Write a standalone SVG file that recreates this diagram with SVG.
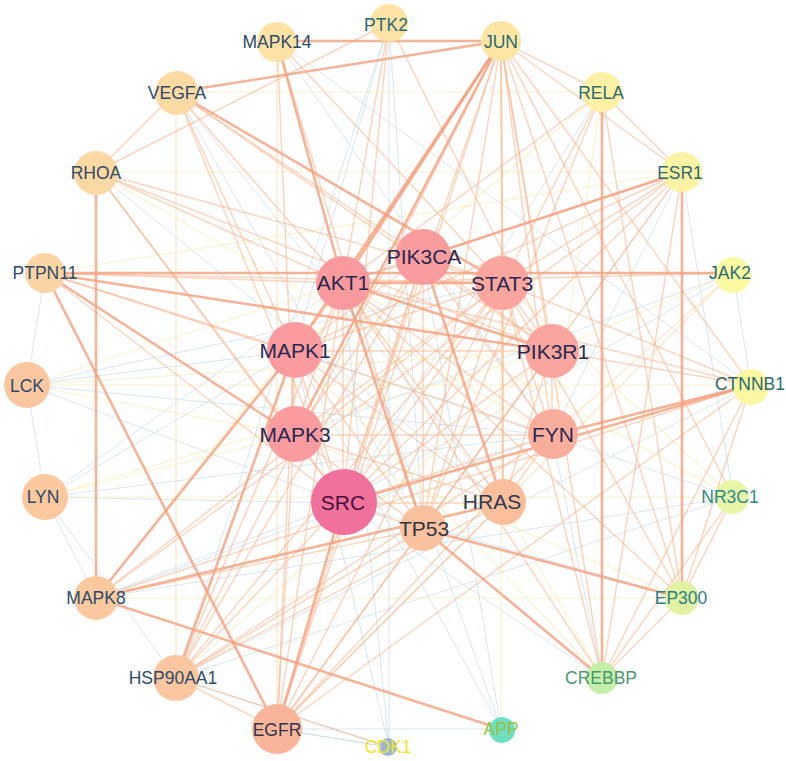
<svg xmlns="http://www.w3.org/2000/svg" width="786" height="761" viewBox="0 0 786 761">
<style>
  .bg{fill:#ffffff}
  #edges line{fill:none;stroke-linecap:round}
  .e1{stroke:#F2A07E;stroke-width:2.6;opacity:.8}
  .e2{stroke:#F6B48E;stroke-width:1.5;opacity:.55}
  .e3{stroke:#F8D4A2;stroke-width:1.3;opacity:.55}
  .e4{stroke:#C8DCEA;stroke-width:1;opacity:.7}
  .e5{stroke:#F5ECAE;stroke-width:1.2;opacity:.6}
  .node text{font-family:"Liberation Sans",Arial,sans-serif;text-anchor:middle;dominant-baseline:central}
  .out text{font-size:17.5px;fill:#2E4B66}
  .yel text{fill:#2B6B6E}
  .inn text{font-size:21px;fill:#2B2850}
</style>
<rect class="bg" x="0" y="0" width="786" height="761"/>
<g id="edges">
  <line class="e4" x1="27" y1="385" x2="343" y2="503"/>
  <line class="e5" x1="27" y1="385" x2="343" y2="283"/>
  <line class="e4" x1="27" y1="385" x2="294" y2="351"/>
  <line class="e5" x1="27" y1="385" x2="294" y2="435"/>
  <line class="e4" x1="27" y1="385" x2="552" y2="435"/>
  <line class="e5" x1="27" y1="385" x2="552" y2="351"/>
  <line class="e5" x1="27" y1="385" x2="751" y2="385"/>
  <line class="e4" x1="27" y1="385" x2="503" y2="283"/>
  <line class="e4" x1="27" y1="385" x2="45" y2="273"/>
  <line class="e4" x1="27" y1="385" x2="45" y2="497"/>
  <line class="e4" x1="45" y1="497" x2="343" y2="503"/>
  <line class="e5" x1="45" y1="497" x2="294" y2="435"/>
  <line class="e4" x1="45" y1="497" x2="552" y2="435"/>
  <line class="e5" x1="45" y1="497" x2="552" y2="351"/>
  <line class="e4" x1="45" y1="497" x2="343" y2="283"/>
  <line class="e5" x1="45" y1="497" x2="733" y2="497"/>
  <line class="e4" x1="45" y1="497" x2="96" y2="598"/>
  <line class="e4" x1="45" y1="497" x2="176" y2="678"/>
  <line class="e4" x1="45" y1="497" x2="294" y2="351"/>
  <line class="e3" x1="176" y1="92" x2="176" y2="678"/>
  <line class="e3" x1="277" y1="41" x2="277" y2="729"/>
  <line class="e4" x1="389" y1="23" x2="389" y2="747"/>
  <line class="e4" x1="389" y1="23" x2="423" y2="529"/>
  <line class="e4" x1="389" y1="747" x2="294" y2="351"/>
  <line class="e4" x1="389" y1="747" x2="343" y2="283"/>
  <line class="e4" x1="389" y1="747" x2="176" y2="678"/>
  <line class="e4" x1="389" y1="747" x2="277" y2="729"/>
  <line class="e4" x1="501" y1="729" x2="294" y2="351"/>
  <line class="e4" x1="501" y1="729" x2="343" y2="283"/>
  <line class="e5" x1="501" y1="729" x2="501" y2="41"/>
  <line class="e4" x1="501" y1="729" x2="277" y2="729"/>
  <line class="e4" x1="501" y1="729" x2="423" y2="257"/>
  <line class="e4" x1="733" y1="273" x2="343" y2="503"/>
  <line class="e3" x1="733" y1="273" x2="552" y2="435"/>
  <line class="e5" x1="733" y1="273" x2="552" y2="351"/>
  <line class="e3" x1="733" y1="273" x2="277" y2="729"/>
  <line class="e4" x1="733" y1="273" x2="751" y2="385"/>
  <line class="e4" x1="733" y1="273" x2="294" y2="435"/>
  <line class="e5" x1="733" y1="497" x2="503" y2="283"/>
  <line class="e4" x1="733" y1="497" x2="96" y2="598"/>
  <line class="e5" x1="733" y1="497" x2="343" y2="283"/>
  <line class="e4" x1="733" y1="497" x2="176" y2="678"/>
  <line class="e4" x1="733" y1="497" x2="682" y2="172"/>
  <line class="e4" x1="733" y1="497" x2="294" y2="351"/>
  <line class="e5" x1="96" y1="598" x2="682" y2="598"/>
  <line class="e5" x1="176" y1="92" x2="602" y2="92"/>
  <line class="e5" x1="96" y1="172" x2="682" y2="172"/>
  <line class="e4" x1="389" y1="23" x2="294" y2="351"/>
  <line class="e4" x1="389" y1="23" x2="176" y2="678"/>
  <line class="e4" x1="277" y1="41" x2="552" y2="435"/>
  <line class="e4" x1="277" y1="41" x2="751" y2="385"/>
  <line class="e4" x1="176" y1="92" x2="503" y2="503"/>
  <line class="e4" x1="176" y1="92" x2="423" y2="529"/>
  <line class="e5" x1="96" y1="172" x2="552" y2="435"/>
  <line class="e4" x1="96" y1="172" x2="503" y2="503"/>
  <line class="e5" x1="602" y1="92" x2="294" y2="351"/>
  <line class="e4" x1="602" y1="92" x2="343" y2="503"/>
  <line class="e5" x1="602" y1="92" x2="552" y2="435"/>
  <line class="e4" x1="682" y1="172" x2="552" y2="435"/>
  <line class="e4" x1="682" y1="172" x2="423" y2="529"/>
  <line class="e5" x1="682" y1="598" x2="294" y2="435"/>
  <line class="e4" x1="682" y1="598" x2="343" y2="503"/>
  <line class="e5" x1="602" y1="678" x2="294" y2="351"/>
  <line class="e4" x1="602" y1="678" x2="343" y2="503"/>
  <line class="e5" x1="602" y1="678" x2="503" y2="503"/>
  <line class="e4" x1="602" y1="678" x2="552" y2="435"/>
  <line class="e5" x1="176" y1="678" x2="552" y2="351"/>
  <line class="e4" x1="176" y1="678" x2="751" y2="385"/>
  <line class="e5" x1="96" y1="598" x2="343" y2="283"/>
  <line class="e4" x1="96" y1="598" x2="552" y2="435"/>
  <line class="e4" x1="96" y1="598" x2="343" y2="503"/>
  <line class="e5" x1="45" y1="273" x2="682" y2="172"/>
  <line class="e4" x1="277" y1="729" x2="389" y2="747"/>
  <line class="e2" x1="501" y1="41" x2="423" y2="529"/>
  <line class="e2" x1="501" y1="41" x2="602" y2="92"/>
  <line class="e2" x1="501" y1="41" x2="682" y2="172"/>
  <line class="e2" x1="501" y1="41" x2="503" y2="283"/>
  <line class="e2" x1="501" y1="41" x2="552" y2="435"/>
  <line class="e2" x1="501" y1="41" x2="503" y2="503"/>
  <line class="e2" x1="501" y1="41" x2="552" y2="351"/>
  <line class="e2" x1="501" y1="41" x2="602" y2="678"/>
  <line class="e2" x1="501" y1="41" x2="682" y2="598"/>
  <line class="e2" x1="501" y1="41" x2="751" y2="385"/>
  <line class="e2" x1="501" y1="41" x2="343" y2="503"/>
  <line class="e2" x1="501" y1="41" x2="176" y2="678"/>
  <line class="e2" x1="501" y1="41" x2="733" y2="497"/>
  <line class="e2" x1="501" y1="41" x2="277" y2="729"/>
  <line class="e2" x1="602" y1="92" x2="682" y2="598"/>
  <line class="e2" x1="602" y1="92" x2="682" y2="172"/>
  <line class="e2" x1="602" y1="92" x2="343" y2="283"/>
  <line class="e2" x1="602" y1="92" x2="503" y2="283"/>
  <line class="e2" x1="602" y1="92" x2="423" y2="529"/>
  <line class="e2" x1="682" y1="172" x2="343" y2="503"/>
  <line class="e2" x1="682" y1="172" x2="343" y2="283"/>
  <line class="e2" x1="682" y1="172" x2="294" y2="351"/>
  <line class="e2" x1="682" y1="172" x2="602" y2="678"/>
  <line class="e2" x1="682" y1="172" x2="503" y2="283"/>
  <line class="e2" x1="682" y1="172" x2="96" y2="598"/>
  <line class="e2" x1="751" y1="385" x2="343" y2="283"/>
  <line class="e2" x1="751" y1="385" x2="552" y2="351"/>
  <line class="e2" x1="751" y1="385" x2="503" y2="283"/>
  <line class="e2" x1="751" y1="385" x2="602" y2="678"/>
  <line class="e2" x1="751" y1="385" x2="277" y2="729"/>
  <line class="e2" x1="751" y1="385" x2="96" y2="598"/>
  <line class="e2" x1="751" y1="385" x2="682" y2="598"/>
  <line class="e2" x1="733" y1="497" x2="682" y2="598"/>
  <line class="e2" x1="733" y1="497" x2="602" y2="678"/>
  <line class="e2" x1="682" y1="598" x2="503" y2="283"/>
  <line class="e2" x1="682" y1="598" x2="343" y2="283"/>
  <line class="e2" x1="682" y1="598" x2="602" y2="678"/>
  <line class="e2" x1="602" y1="678" x2="503" y2="283"/>
  <line class="e2" x1="602" y1="678" x2="343" y2="283"/>
  <line class="e2" x1="277" y1="729" x2="343" y2="283"/>
  <line class="e2" x1="277" y1="729" x2="294" y2="351"/>
  <line class="e2" x1="277" y1="729" x2="294" y2="435"/>
  <line class="e2" x1="277" y1="729" x2="503" y2="283"/>
  <line class="e2" x1="277" y1="729" x2="552" y2="351"/>
  <line class="e2" x1="277" y1="729" x2="552" y2="435"/>
  <line class="e2" x1="277" y1="729" x2="503" y2="503"/>
  <line class="e2" x1="277" y1="729" x2="423" y2="257"/>
  <line class="e2" x1="277" y1="729" x2="176" y2="678"/>
  <line class="e2" x1="277" y1="729" x2="682" y2="172"/>
  <line class="e2" x1="176" y1="678" x2="343" y2="283"/>
  <line class="e2" x1="176" y1="678" x2="343" y2="503"/>
  <line class="e2" x1="176" y1="678" x2="503" y2="283"/>
  <line class="e2" x1="176" y1="678" x2="423" y2="257"/>
  <line class="e2" x1="176" y1="678" x2="552" y2="435"/>
  <line class="e2" x1="176" y1="678" x2="503" y2="503"/>
  <line class="e2" x1="176" y1="678" x2="423" y2="529"/>
  <line class="e2" x1="176" y1="678" x2="389" y2="747"/>
  <line class="e2" x1="96" y1="598" x2="423" y2="529"/>
  <line class="e2" x1="96" y1="598" x2="503" y2="283"/>
  <line class="e2" x1="96" y1="172" x2="343" y2="283"/>
  <line class="e2" x1="96" y1="172" x2="552" y2="351"/>
  <line class="e2" x1="96" y1="172" x2="294" y2="435"/>
  <line class="e2" x1="96" y1="172" x2="343" y2="503"/>
  <line class="e2" x1="96" y1="172" x2="176" y2="92"/>
  <line class="e2" x1="96" y1="172" x2="503" y2="283"/>
  <line class="e2" x1="176" y1="92" x2="552" y2="351"/>
  <line class="e2" x1="176" y1="92" x2="343" y2="283"/>
  <line class="e2" x1="176" y1="92" x2="343" y2="503"/>
  <line class="e2" x1="176" y1="92" x2="294" y2="351"/>
  <line class="e2" x1="176" y1="92" x2="423" y2="257"/>
  <line class="e2" x1="277" y1="41" x2="423" y2="529"/>
  <line class="e2" x1="277" y1="41" x2="503" y2="283"/>
  <line class="e2" x1="277" y1="41" x2="294" y2="435"/>
  <line class="e2" x1="389" y1="23" x2="343" y2="283"/>
  <line class="e2" x1="389" y1="23" x2="343" y2="503"/>
  <line class="e2" x1="389" y1="23" x2="552" y2="351"/>
  <line class="e2" x1="389" y1="23" x2="96" y2="172"/>
  <line class="e2" x1="45" y1="273" x2="294" y2="351"/>
  <line class="e2" x1="45" y1="273" x2="503" y2="283"/>
  <line class="e2" x1="45" y1="273" x2="343" y2="503"/>
  <line class="e2" x1="45" y1="273" x2="552" y2="435"/>
  <line class="e2" x1="45" y1="273" x2="343" y2="283"/>
  <line class="e2" x1="343" y1="283" x2="733" y2="273"/>
  <line class="e2" x1="343" y1="283" x2="423" y2="257"/>
  <line class="e2" x1="343" y1="283" x2="294" y2="351"/>
  <line class="e2" x1="343" y1="283" x2="294" y2="435"/>
  <line class="e2" x1="343" y1="283" x2="343" y2="503"/>
  <line class="e2" x1="343" y1="283" x2="552" y2="435"/>
  <line class="e2" x1="343" y1="283" x2="503" y2="503"/>
  <line class="e2" x1="423" y1="257" x2="503" y2="283"/>
  <line class="e2" x1="423" y1="257" x2="552" y2="351"/>
  <line class="e2" x1="423" y1="257" x2="343" y2="503"/>
  <line class="e2" x1="423" y1="257" x2="294" y2="351"/>
  <line class="e2" x1="423" y1="257" x2="294" y2="435"/>
  <line class="e2" x1="423" y1="257" x2="552" y2="435"/>
  <line class="e2" x1="423" y1="257" x2="423" y2="529"/>
  <line class="e2" x1="503" y1="283" x2="343" y2="503"/>
  <line class="e2" x1="503" y1="283" x2="294" y2="351"/>
  <line class="e2" x1="503" y1="283" x2="294" y2="435"/>
  <line class="e2" x1="503" y1="283" x2="552" y2="351"/>
  <line class="e2" x1="503" y1="283" x2="423" y2="529"/>
  <line class="e2" x1="503" y1="283" x2="552" y2="435"/>
  <line class="e2" x1="503" y1="283" x2="503" y2="503"/>
  <line class="e2" x1="552" y1="351" x2="343" y2="503"/>
  <line class="e2" x1="552" y1="351" x2="552" y2="435"/>
  <line class="e2" x1="552" y1="351" x2="294" y2="351"/>
  <line class="e2" x1="552" y1="351" x2="503" y2="503"/>
  <line class="e2" x1="552" y1="435" x2="343" y2="503"/>
  <line class="e2" x1="552" y1="435" x2="294" y2="435"/>
  <line class="e2" x1="552" y1="435" x2="503" y2="503"/>
  <line class="e2" x1="503" y1="503" x2="343" y2="503"/>
  <line class="e2" x1="503" y1="503" x2="294" y2="351"/>
  <line class="e2" x1="503" y1="503" x2="294" y2="435"/>
  <line class="e2" x1="423" y1="529" x2="343" y2="503"/>
  <line class="e2" x1="423" y1="529" x2="294" y2="351"/>
  <line class="e2" x1="423" y1="529" x2="294" y2="435"/>
  <line class="e2" x1="343" y1="503" x2="294" y2="351"/>
  <line class="e2" x1="343" y1="503" x2="294" y2="435"/>
  <line class="e2" x1="294" y1="351" x2="294" y2="435"/>
  <line class="e1" x1="45" y1="273" x2="733" y2="273"/>
  <line class="e1" x1="277" y1="41" x2="501" y2="41"/>
  <line class="e1" x1="176" y1="92" x2="501" y2="41"/>
  <line class="e1" x1="96" y1="172" x2="96" y2="598"/>
  <line class="e1" x1="602" y1="92" x2="602" y2="678"/>
  <line class="e1" x1="682" y1="172" x2="682" y2="598"/>
  <line class="e1" x1="45" y1="273" x2="277" y2="729"/>
  <line class="e1" x1="45" y1="273" x2="294" y2="435"/>
  <line class="e1" x1="682" y1="172" x2="423" y2="257"/>
  <line class="e1" x1="751" y1="385" x2="552" y2="435"/>
  <line class="e1" x1="751" y1="385" x2="343" y2="503"/>
  <line class="e1" x1="423" y1="529" x2="682" y2="598"/>
  <line class="e1" x1="423" y1="529" x2="602" y2="678"/>
  <line class="e1" x1="501" y1="41" x2="343" y2="283"/>
  <line class="e1" x1="501" y1="41" x2="294" y2="351"/>
  <line class="e1" x1="501" y1="41" x2="294" y2="435"/>
  <line class="e1" x1="176" y1="92" x2="503" y2="283"/>
  <line class="e1" x1="277" y1="41" x2="343" y2="283"/>
  <line class="e1" x1="96" y1="598" x2="294" y2="351"/>
  <line class="e1" x1="96" y1="598" x2="503" y2="503"/>
  <line class="e1" x1="96" y1="598" x2="501" y2="729"/>
  <line class="e1" x1="343" y1="283" x2="503" y2="283"/>
  <line class="e1" x1="343" y1="283" x2="552" y2="351"/>
  <line class="e1" x1="423" y1="257" x2="503" y2="503"/>
  <line class="e1" x1="343" y1="283" x2="423" y2="529"/>
  <line class="e1" x1="45" y1="273" x2="552" y2="351"/>
  <line class="e1" x1="176" y1="678" x2="294" y2="351"/>
  <line class="e1" x1="277" y1="729" x2="343" y2="503"/>
</g>
<g id="n-PTK2" class="node out yel"><circle cx="389" cy="23" r="19" fill="#FDE3A6"/><text x="386" y="25">PTK2</text></g>
<g id="n-JUN" class="node out yel"><circle cx="501" cy="41" r="20" fill="#FDE6A5"/><text x="501" y="42">JUN</text></g>
<g id="n-RELA" class="node out yel"><circle cx="602" cy="92" r="20" fill="#FEF0A5"/><text x="601" y="93">RELA</text></g>
<g id="n-ESR1" class="node out yel"><circle cx="682" cy="172" r="20" fill="#FEF3A4"/><text x="680" y="173">ESR1</text></g>
<g id="n-JAK2" class="node out yel"><circle cx="733" cy="275" r="18" fill="#FBFAA3"/><text x="730" y="273">JAK2</text></g>
<g id="n-CTNNB1" class="node out yel"><circle cx="751" cy="387" r="18" fill="#FAF8A2"/><text x="750" y="384">CTNNB1</text></g>
<g id="n-NR3C1" class="node out yel"><circle cx="732" cy="497" r="17" fill="#E8F4A6"/><text x="730" y="497" style="fill:#2E8A88">NR3C1</text></g>
<g id="n-EP300" class="node out yel"><circle cx="682" cy="598" r="17" fill="#E1F2A3"/><text x="681" y="598" style="fill:#2D8080">EP300</text></g>
<g id="n-CREBBP" class="node out"><circle cx="602" cy="678" r="16" fill="#C4EEAA"/><text x="601" y="678" style="fill:#4A9A6E">CREBBP</text></g>
<g id="n-APP" class="node out"><circle cx="502" cy="730" r="13" fill="#6FDEC3"/><text x="501" y="729" style="fill:#9AC13E">APP</text></g>
<g id="n-CDK1" class="node out"><circle cx="388" cy="747" r="9" fill="#9CB6D8"/><text x="388" y="747" style="fill:#EEE52B">CDK1</text></g>
<g id="n-EGFR" class="node out"><circle cx="277" cy="729" r="25" fill="#F9B59A"/><text x="277" y="730" style="fill:#2F3450">EGFR</text></g>
<g id="n-HSP90AA1" class="node out"><circle cx="176" cy="678" r="23" fill="#FBC6A0"/><text x="173" y="678">HSP90AA1</text></g>
<g id="n-MAPK8" class="node out"><circle cx="96" cy="598" r="22" fill="#FBC8A0"/><text x="96" y="598">MAPK8</text></g>
<g id="n-LYN" class="node out"><circle cx="45" cy="497" r="23" fill="#FBC8A0"/><text x="43" y="497">LYN</text></g>
<g id="n-LCK" class="node out"><circle cx="27" cy="385" r="23" fill="#FBC7A0"/><text x="27" y="386">LCK</text></g>
<g id="n-PTPN11" class="node out"><circle cx="45" cy="273" r="20" fill="#FCD4A5"/><text x="45" y="273">PTPN11</text></g>
<g id="n-RHOA" class="node out"><circle cx="96" cy="173" r="22" fill="#FCD8A4"/><text x="96" y="173">RHOA</text></g>
<g id="n-VEGFA" class="node out"><circle cx="177" cy="93" r="22" fill="#FDD9A4"/><text x="177" y="93">VEGFA</text></g>
<g id="n-MAPK14" class="node out"><circle cx="277" cy="42" r="20" fill="#FDE2A6"/><text x="277" y="42">MAPK14</text></g>
<g id="n-PIK3CA" class="node inn"><circle cx="423" cy="257" r="28" fill="#F99C9F"/><text x="424" y="256">PIK3CA</text></g>
<g id="n-STAT3" class="node inn"><circle cx="502" cy="283" r="27" fill="#FAA69E"/><text x="502" y="283">STAT3</text></g>
<g id="n-PIK3R1" class="node inn"><circle cx="552" cy="351" r="27" fill="#FAA59E"/><text x="553" y="351">PIK3R1</text></g>
<g id="n-FYN" class="node inn"><circle cx="553" cy="434" r="25" fill="#F9AD9C"/><text x="553" y="434">FYN</text></g>
<g id="n-HRAS" class="node inn"><circle cx="503" cy="502" r="23" fill="#F9BE9C"/><text x="492" y="501" style="fill:#2F3A50">HRAS</text></g>
<g id="n-TP53" class="node inn"><circle cx="423" cy="528" r="23" fill="#F9C19D"/><text x="424" y="528" style="fill:#333640">TP53</text></g>
<g id="n-SRC" class="node inn"><circle cx="344" cy="502" r="33" fill="#F0719B"/><text x="343" y="502" style="fill:#4A0F3E">SRC</text></g>
<g id="n-MAPK3" class="node inn"><circle cx="295" cy="434" r="28" fill="#F99B9F"/><text x="295" y="434">MAPK3</text></g>
<g id="n-MAPK1" class="node inn"><circle cx="295" cy="350" r="28" fill="#F99B9F"/><text x="295" y="350">MAPK1</text></g>
<g id="n-AKT1" class="node inn"><circle cx="343" cy="283" r="27" fill="#F99B9E"/><text x="343" y="282">AKT1</text></g>
</svg>
